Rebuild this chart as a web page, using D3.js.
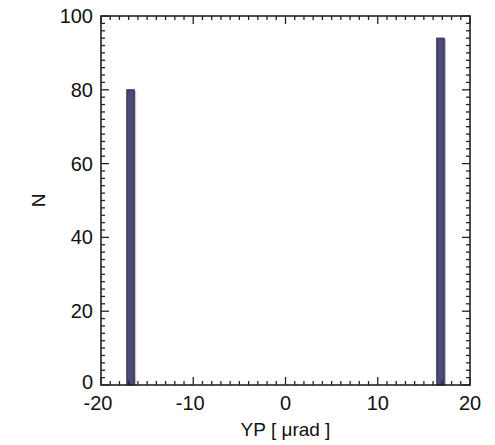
<!DOCTYPE html>
<html>
<head>
<meta charset="utf-8">
<script src="https://cdn.jsdelivr.net/npm/d3@7"></script>
<style>
  body { margin: 0; background: #fff; }
  text { font-family: "Liberation Sans", Arial, sans-serif; fill: #111; }
</style>
</head>
<body>
<svg id="chart"></svg>
<script>
'use strict';

// histogram bins (bin edges in µrad) and counts
var binStart = [-17.2, 16.4];
var binEnd = [-16.4, 17.2];
var counts = [80, 94];

var xTicks = [-20, -10, 0, 10, 20];
var yTicks = [0, 20, 40, 60, 80, 100];

function draw() {
    var width = 495,
        height = 445,
        margin = { left: 101, right: 25, top: 16, bottom: 60 };

    var svg = d3.select("#chart")
                .attr("width", width)
                .attr("height", height);

    var x = d3.scaleLinear().domain([-20, 20]).range([margin.left, width - margin.right]);
    var y = d3.scaleLinear().domain([0, 100]).range([height - margin.bottom, margin.top]);

    var x0 = x.range()[0], x1 = x.range()[1],
        y0 = y.range()[0], y1 = y.range()[1];

    // bars
    var data = counts.map(function(c, i) { return { a: binStart[i], b: binEnd[i], n: c }; });

    svg.selectAll(".shadow")
        .data(data)
        .enter().append("rect")
            .attr("class", "shadow")
            .attr("x", function(d) { return x(d.b); })
            .attr("y", function(d) { return y(d.n) + 1; })
            .attr("width", 2)
            .attr("height", function(d) { return y0 - y(d.n) - 1; })
            .style("fill", "#c4c4c8");

    svg.selectAll(".bar")
        .data(data)
        .enter().append("rect")
            .attr("class", "bar")
            .attr("x", function(d) { return x(d.a); })
            .attr("y", function(d) { return y(d.n); })
            .attr("width", function(d) { return x(d.b) - x(d.a); })
            .attr("height", function(d) { return y0 - y(d.n); })
            .style("fill", "#4c4a7c")
            .style("stroke", "#26243f")
            .style("stroke-width", 1);

    // axes: inward ticks on all four sides
    var g = svg.append("g").style("stroke", "#222").style("stroke-width", 1.3);

    var xMinor = d3.range(-20, 21, 1);
    var yMinor = d3.range(0, 101, 2);

    xMinor.forEach(function(v) {
        var len = (v % 10 === 0) ? 8 : 4;
        g.append("line").attr("x1", x(v)).attr("x2", x(v)).attr("y1", y0).attr("y2", y0 - len);
        g.append("line").attr("x1", x(v)).attr("x2", x(v)).attr("y1", y1).attr("y2", y1 + len);
    });
    yMinor.forEach(function(v) {
        var len = (v % 20 === 0) ? 8 : 4;
        g.append("line").attr("x1", x0).attr("x2", x0 + len).attr("y1", y(v)).attr("y2", y(v));
        g.append("line").attr("x1", x1).attr("x2", x1 - len).attr("y1", y(v)).attr("y2", y(v));
    });

    g.append("rect")
        .attr("x", x0).attr("y", y1)
        .attr("width", x1 - x0).attr("height", y0 - y1)
        .style("fill", "none")
        .style("stroke-width", 1.6);

    // tick labels
    svg.selectAll(".xlab")
        .data(xTicks)
        .enter().append("text")
            .attr("x", function(d) { return x(d) - (d < 0 ? 3 : 0); })
            .attr("y", y0 + 25)
            .attr("text-anchor", "middle")
            .style("font-size", "20px")
            .text(function(d) { return d; });

    svg.selectAll(".ylab")
        .data(yTicks)
        .enter().append("text")
            .attr("x", x0 - 8)
            .attr("y", function(d) { return y(d) + (d === 0 ? 4 : 7); })
            .attr("text-anchor", "end")
            .style("font-size", "20px")
            .text(function(d) { return d; });

    // axis titles
    svg.append("text")
        .attr("x", x(0))
        .attr("y", y0 + 51)
        .attr("text-anchor", "middle")
        .style("font-size", "19px")
        .text("YP [ \u03bcrad ]");

    svg.append("text")
        .attr("transform", "translate(45," + ((y0 + y1) / 2) + ") rotate(-90)")
        .attr("text-anchor", "middle")
        .style("font-size", "19px")
        .text("N");
}

draw();
</script>
</body>
</html>
